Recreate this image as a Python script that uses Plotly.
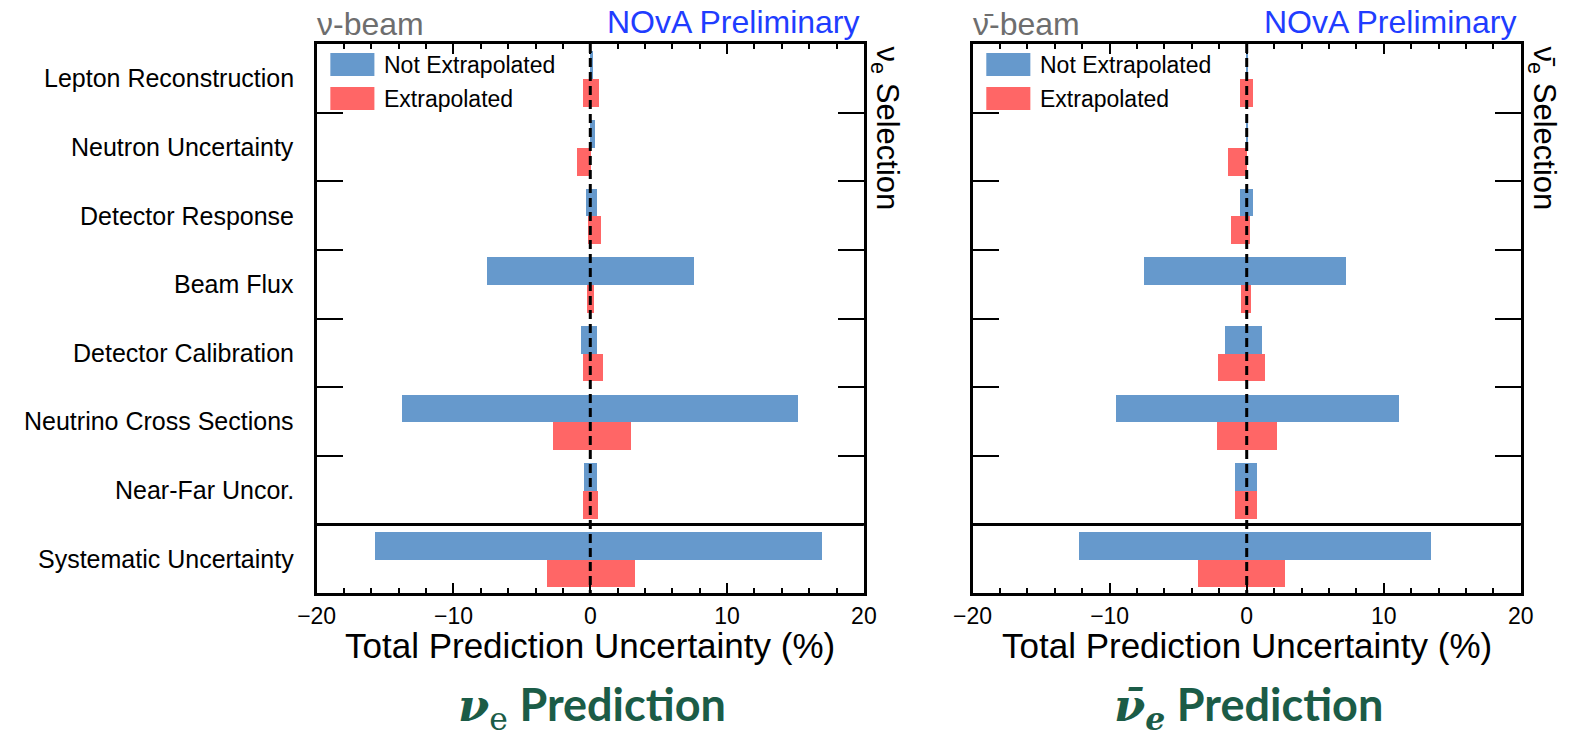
import plotly.graph_objects as go

# ---- data -------------------------------------------------------------
categories = [
    "Lepton Reconstruction",
    "Neutron Uncertainty",
    "Detector Response",
    "Beam Flux",
    "Detector Calibration",
    "Neutrino Cross Sections",
    "Near-Far Uncor.",
    "Systematic Uncertainty",
]

# nu_e prediction (nu-beam): lower / upper shifts in %
nue_notextrap_low = [-0.05, -0.05, -0.37, -7.54, -0.68, -13.79, -0.48, -15.76]
nue_notextrap_high = [0.15, 0.35, 0.45, 7.54, 0.45, 15.14, 0.45, 16.89]
nue_extrap_low = [-0.59, -0.99, -0.17, -0.23, -0.56, -2.77, -0.56, -3.18]
nue_extrap_high = [0.59, 0.03, 0.76, 0.25, 0.88, 2.97, 0.56, 3.26]

# anti-nu_e prediction (anti-nu-beam)
nuebar_notextrap_low = [-0.03, -0.03, -0.54, -7.50, -1.58, -9.56, -0.85, -12.26]
nuebar_notextrap_high = [0.05, 0.05, 0.40, 7.24, 1.10, 11.09, 0.71, 13.42]
nuebar_extrap_low = [-0.54, -1.39, -1.19, -0.42, -2.09, -2.21, -0.85, -3.62]
nuebar_extrap_high = [0.40, 0.00, 0.20, 0.28, 1.33, 2.18, 0.71, 2.73]

x_ticks = [-20, -10, 0, 10, 20]
series_names = ["Not Extrapolated", "Extrapolated"]

# ---- style ------------------------------------------------------------
W, H = 1573, 739
BLUE = "#6699cc"
RED = "#ff6666"
GREEN = "#1b5c47"
FONT = "Liberation Sans"
NU_FONT = "DejaVu Serif"


def px_x(v):
    return v / W


def px_y(v):
    return 1 - v / H


panels = [
    dict(xa="x", ya="y", xdom=(303, 862),
         blue=(nue_notextrap_low, nue_notextrap_high),
         red=(nue_extrap_low, nue_extrap_high),
         beam="ν-beam", sel="ν<sub>e</sub> Selection",
         pred=f'<span style="font-family:{NU_FONT}"><b><i>ν</i></b><sub>e</sub></span> <b>Prediction</b>'),
    dict(xa="x2", ya="y2", xdom=(973, 1533),
         blue=(nuebar_notextrap_low, nuebar_notextrap_high),
         red=(nuebar_extrap_low, nuebar_extrap_high),
         beam="ν\u0304-beam", sel="ν\u0304<sub>e</sub> Selection",
         pred=f'<span style="font-family:{NU_FONT}"><b><i>ν\u0304<sub>e</sub></i></b></span> <b>Prediction</b>'),
]

TOP, BOTTOM = 44, 593
n = len(categories)
rows = list(range(n))

fig = go.Figure()
annotations = []
shapes = []

tick_style = dict(ticks="inside", ticklen=10, tickwidth=2, tickcolor="black",
                  minor=dict(tickmode="linear", tick0=0, dtick=2, ticks="inside",
                             ticklen=5, tickwidth=2, tickcolor="black"))

for k, p in enumerate(panels):
    for (low, high), color, off in ((p["blue"], BLUE, -0.19), (p["red"], RED, 0.215)):
        fig.add_trace(go.Bar(
            y=[r + off for r in rows],
            x=[h - l for l, h in zip(low, high)],
            base=low,
            orientation="h",
            width=0.405,
            marker=dict(color=color, line=dict(width=0)),
            xaxis=p["xa"], yaxis=p["ya"],
            showlegend=False, hoverinfo="skip",
        ))

    axis_suffix = "" if k == 0 else "2"
    top_suffix = str(3 + k)
    fig.update_layout(**{
        "xaxis" + axis_suffix: dict(
            domain=[px_x(p["xdom"][0]), px_x(p["xdom"][1])],
            anchor=p["ya"], range=[-20, 20],
            tickmode="array", tickvals=x_ticks,
            showline=True, linewidth=3, linecolor="black", mirror=True,
            showgrid=False, zeroline=False,
            tickfont=dict(family=FONT, size=23, color="black"),
            fixedrange=True, **tick_style,
        ),
        # tick marks along the top edge of the frame
        "xaxis" + top_suffix: dict(
            overlaying=p["xa"], side="top", anchor=p["ya"], range=[-20, 20],
            tickmode="array", tickvals=x_ticks, showticklabels=False,
            showline=False, showgrid=False, zeroline=False, fixedrange=True,
            **tick_style,
        ),
        "yaxis" + axis_suffix: dict(
            domain=[px_y(BOTTOM), px_y(TOP)],
            anchor=p["xa"], range=[n - 0.5, -0.5],
            tickmode="array", tickvals=[r + 0.5 for r in rows[:-1]],
            ticks="inside", ticklen=26, tickwidth=2, tickcolor="black",
            showticklabels=False,
            showline=True, linewidth=3, linecolor="black", mirror="ticks",
            showgrid=False, zeroline=False, fixedrange=True,
        ),
    })
    # an invisible trace keeps the top tick axis drawn
    fig.add_trace(go.Scatter(x=[0], y=[0], mode="markers", marker=dict(opacity=0),
                             xaxis="x" + top_suffix, yaxis=p["ya"],
                             showlegend=False, hoverinfo="skip"))

    # dashed zero line and separator above the total
    shapes.append(dict(type="line", xref=p["xa"], yref=p["ya"], x0=0, x1=0,
                       y0=-0.5, y1=n - 0.5,
                       line=dict(color="black", width=3, dash="9px,5px")))
    shapes.append(dict(type="line", xref=p["xa"], yref=p["ya"], x0=-20, x1=20,
                       y0=n - 1.5, y1=n - 1.5, line=dict(color="black", width=3)))

    x0 = p["xdom"][0]
    x1 = p["xdom"][1]
    # legend swatches and labels
    for j, (name, color) in enumerate(zip(series_names, (BLUE, RED))):
        yt = 53 + j * 34
        shapes.append(dict(type="rect", xref="paper", yref="paper",
                           x0=px_x(x0 + 14), x1=px_x(x0 + 59),
                           y0=px_y(yt), y1=px_y(yt + 23),
                           fillcolor=color, line=dict(width=0)))
        annotations.append(dict(text=name, xref="paper", yref="paper",
                                x=px_x(x0 + 67), y=px_y(yt + 12),
                                xanchor="left", yanchor="middle", showarrow=False,
                                font=dict(family=FONT, size=23, color="black")))

    # header texts
    annotations.append(dict(text=p["beam"], xref="paper", yref="paper",
                            x=px_x(x0 - 2), y=px_y(24), xanchor="left", yanchor="middle",
                            showarrow=False, font=dict(family=FONT, size=32, color="#6e6e6e")))
    annotations.append(dict(text="NOvA Preliminary", xref="paper", yref="paper",
                            x=px_x(x1 - 2), y=px_y(22), xanchor="right", yanchor="middle",
                            showarrow=False, font=dict(family=FONT, size=32, color="#1f3dff")))
    annotations.append(dict(text=p["sel"], xref="paper", yref="paper",
                            x=px_x(x1 + 22), y=px_y(45), xanchor="center", yanchor="top",
                            textangle=90, showarrow=False,
                            font=dict(family=FONT, size=31, color="black")))
    # axis title
    annotations.append(dict(text="Total Prediction Uncertainty (%)", xref="paper", yref="paper",
                            x=px_x((x0 + x1) / 2), y=px_y(645), xanchor="center", yanchor="middle",
                            showarrow=False, font=dict(family=FONT, size=35, color="black")))
    # panel caption
    annotations.append(dict(text=p["pred"], xref="paper", yref="paper",
                            x=px_x((x0 + x1) / 2 + 2), y=px_y(707), xanchor="center", yanchor="middle",
                            showarrow=False, font=dict(family="Lato", size=45, color=GREEN)))

# category labels on the left panel
for r, name in zip(rows, categories):
    annotations.append(dict(text=name, xref="paper", yref="y",
                            x=px_x(282), y=r, xanchor="right", yanchor="middle",
                            showarrow=False, font=dict(family=FONT, size=25, color="black")))

fig.update_layout(
    width=W, height=H,
    margin=dict(l=0, r=0, t=0, b=0),
    paper_bgcolor="white", plot_bgcolor="white",
    barmode="overlay", bargap=0,
    shapes=shapes, annotations=annotations,
    showlegend=False,
)

fig.write_html("out.html", config={"displayModeBar": False})
